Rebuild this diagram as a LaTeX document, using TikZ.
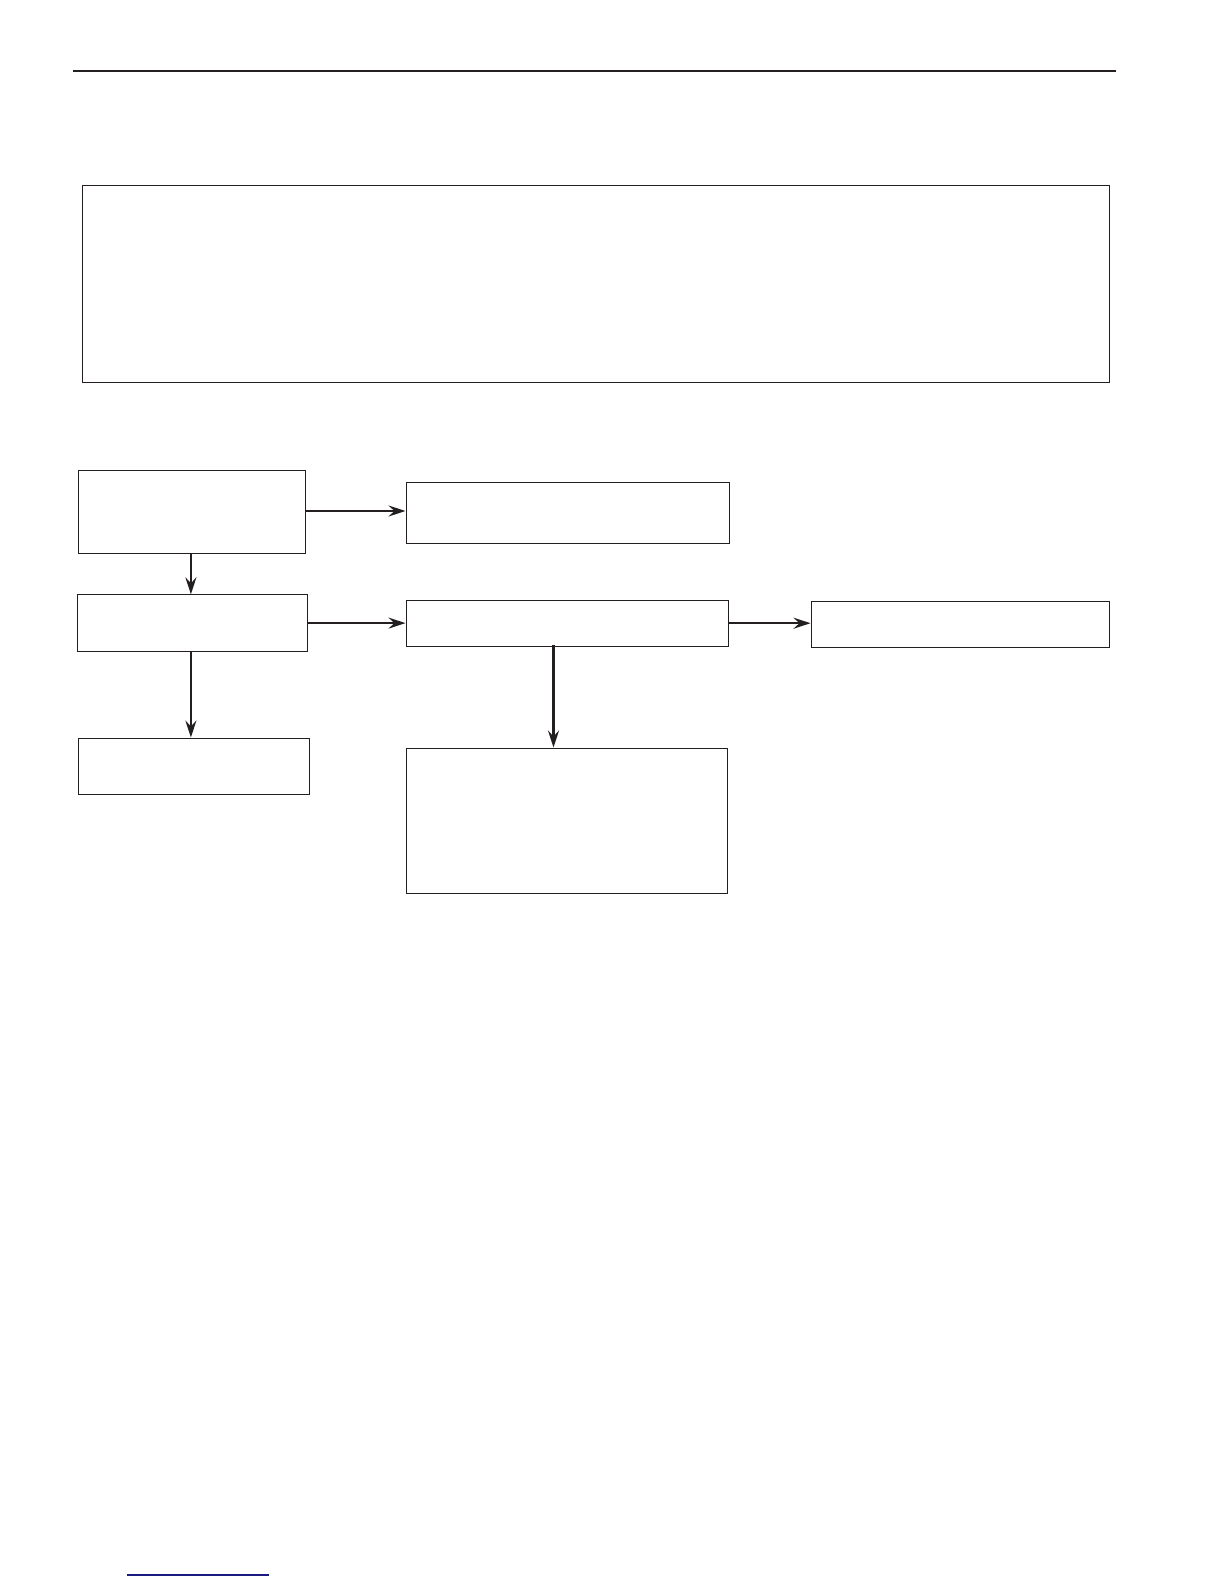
\documentclass[tikz,border=0pt]{standalone}
\usetikzlibrary{arrows.meta}
\definecolor{ink}{HTML}{231F20}
\definecolor{navy}{HTML}{1A1A80}
\begin{document}
\begin{tikzpicture}[x=1pt,y=-1pt,
  boxst/.style={draw=ink,line width=1pt,fill=white},
  conn/.style={draw=ink,line width=2.4pt,-{Stealth[length=17pt,width=11pt,inset=6pt]}}]
\useasboundingbox (0,0) rectangle (1224,1584);
\fill[white] (0,0) rectangle (1224,1584);
% header rule
\draw[ink,line width=2.2pt] (72.5,70.7) -- (1115.5,70.7);
% big box
\path[boxst] (82.8,185.8) rectangle (1109.5,382.8);
% flow boxes
\node[boxst,minimum width=227pt,minimum height=82.8pt,inner sep=0pt] (A) at (192.4,512) {};
\node[boxst,minimum width=323pt,minimum height=60.6pt,inner sep=0pt] (B) at (567.5,513) {};
\node[boxst,minimum width=230pt,minimum height=56.6pt,inner sep=0pt] (C) at (192.9,623.1) {};
\node[boxst,minimum width=322pt,minimum height=46.3pt,inner sep=0pt] (D) at (567,623.2) {};
\node[boxst,minimum width=298pt,minimum height=46pt,inner sep=0pt] (E) at (960,624) {};
\node[boxst,minimum width=231pt,minimum height=56pt,inner sep=0pt] (F) at (194.4,766) {};
\node[boxst,minimum width=321pt,minimum height=145pt,inner sep=0pt] (G) at (566.5,820.5) {};
% connectors
\draw[conn] ([yshift=1pt]A.east) -- ([yshift=1pt]A.east -| B.west);
\draw[conn] ([xshift=-1.5pt]A.south) -- ([xshift=-1.5pt]A.south |- C.north);
\draw[conn] (C.east) -- (C.east -| D.west);
\draw[conn] (D.east) -- (D.east -| E.west);
\draw[conn] ([xshift=-2pt]C.south) -- ([xshift=-2pt]C.south |- F.north);
\coordinate (dg) at ([xshift=148pt,yshift=2pt]D.south west);
\draw[conn] (dg) -- (dg |- G.north);
% footer link rule
\draw[navy,line width=1.2pt] (127,1575) -- (269,1575);
\end{tikzpicture}
\end{document}
